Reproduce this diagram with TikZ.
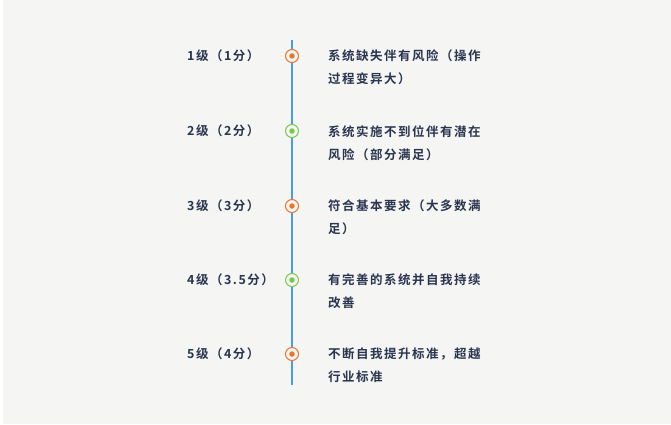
\documentclass[tikz,border=0pt]{standalone}
\usepackage{fontspec}
\newfontfamily\cjk[LetterSpace=12]{Noto Sans CJK SC Bold}
\definecolor{bg}{HTML}{F5F5F3}
\definecolor{txt}{HTML}{2A3550}
\definecolor{lineblue}{HTML}{4A9BF0}
\definecolor{org}{HTML}{E8762C}
\definecolor{grn}{HTML}{78C850}
\begin{document}
\begin{tikzpicture}[x=1pt,y=-1pt,
  lbl/.style={anchor=west,inner sep=0pt,text=txt,font=\cjk\fontsize{12.5}{22}\selectfont},
  desc/.style={anchor=north west,inner sep=0pt,text=txt,align=left,font=\cjk\fontsize{12.5}{23}\selectfont},
  ring/.style={circle,draw=#1,line width=1pt,minimum size=13pt,inner sep=0pt,fill=bg},
  dot/.style={circle,fill=#1,minimum size=5.5pt,inner sep=0pt}]
\useasboundingbox (0,0) rectangle (671,425);
\fill[white] (0,0) rectangle (671,425);
\fill[bg] (3,0) rectangle (671,424);
\coordinate (top) at (292,40);
\coordinate (bot) at (292,385);
\draw[lineblue,line width=1.6pt] (top) -- (bot);
\foreach \i/\y/\c/\l/\d in {
  1/56/org/{1级（1分）}/{系统缺失伴有风险（操作\\过程变异大）},
  2/131/grn/{2级（2分）}/{系统实施不到位伴有潜在\\风险（部分满足）},
  3/206/org/{3级（3分）}/{符合基本要求（大多数满\\足）},
  4/280/grn/{4级（3.5分）}/{有完善的系统并自我持续\\改善},
  5/354/org/{5级（4分）}/{不断自我提升标准，超越\\行业标准}}{
  \node[ring=\c] (r\i) at (292,\y) {};
  \node[dot=\c] (d\i) at (r\i) {};
  \node[lbl] (l\i) at (187,\y) {\l};
  \node[desc] (t\i) at (328,\y-6) {\d};
}
\end{tikzpicture}
\end{document}
